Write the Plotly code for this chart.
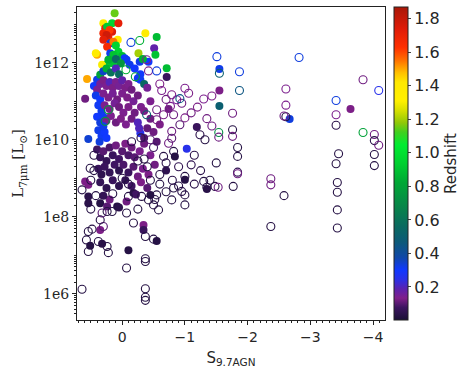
import plotly.graph_objects as go

# filled markers: S9.7AGN, log10 L7um, redshift
fill_s = [0.12, 0.30, 0.16, 0.06, 0.27, 0.24, 0.30, 0.16, 0.22, 0.20, 0.25, -0.37, -0.55, 0.30, 0.07,
          0.19, 0.24, 0.14, 0.10, -0.51, -0.53, 0.06, 0.40, 0.42, 0.19, 0.14, -0.26, 0.00, -0.04, -0.07,
          -0.28, -0.42, -0.33, 0.06, 0.16, 0.27, 0.32, 0.22, 0.10, 0.02, -0.71, -0.12, -0.20, -0.29, -0.25,
          0.56, 0.40, 0.35, 0.30, 0.25, 0.18, 0.10, 0.05, -0.29, -0.71, -0.35, -0.40, 0.59,
          0.45, 0.40, 0.35, 0.30, 0.25, 0.20, 0.15, 0.10, 0.05, 0.00, -0.05, -0.10, -0.15,
          0.42, 0.35, 0.30, 0.22, 0.15, 0.08, 0.00, -0.08, -0.18, -0.25,
          0.38, 0.33, 0.28, 0.20, 0.12, 0.05, -0.02, -0.10, -0.20, -0.30,
          0.40, 0.35, 0.30, 0.25, 0.18, 0.10, 0.02, -0.06, -0.15, -0.29, -0.27,
          0.38, 0.33, 0.28, 0.36, 0.30, 0.54, 0.25,
          0.40, 0.35, 0.30, 0.25, 0.20, 0.15, 0.10, 0.05, 0.00, -0.05, -0.10, -0.15, -0.20, -0.28, -0.35, -0.45,
          0.38, 0.33, 0.28, 0.20, 0.12, 0.05, -0.02, -0.10, -0.18, -0.25, -0.33, -0.42, -0.52,
          0.35, 0.25, 0.15, 0.05, -0.05, -0.15, -0.30, -0.40,
          0.54, 0.54, 0.54, 0.35, 0.24, 0.08, 0.05, -0.07, -0.18, -0.22, -0.45, -1.35, -0.34, -0.34, -0.55,
          -0.10, 0.51, 0.32, 0.35, 0.20, 0.30, 0.59,
          -0.74, -1.19, -1.03, -0.84, -1.00, -0.60, -0.50, -0.55, -0.70,
          -0.35, -0.45, -0.40, -0.35, -0.45, -0.25,
          -1.55, -1.55, -1.55, -2.67, -3.64]
fill_logL = [13.29, 13.03, 13.03, 13.03, 12.90, 12.94, 12.77, 12.81, 12.68, 12.85, 12.72, 12.77, 12.67, 12.60, 12.60,
             12.51, 12.42, 12.55, 12.45, 12.38, 12.21, 12.29, 12.21, 12.25, 12.25, 12.21, 12.25, 12.18, 12.12, 12.08,
             12.03, 12.03, 12.10, 12.03, 11.99, 11.95, 11.95, 12.08, 12.10, 11.98, 11.86, 11.95, 11.85, 11.70, 11.60,
             11.58, 11.56, 11.69, 11.78, 11.85, 11.75, 11.85, 11.70, 11.56, 11.63, 11.45, 11.35, 11.07,
             11.40, 11.30, 11.45, 11.55, 11.40, 11.50, 11.35, 11.50, 11.40, 11.55, 11.35, 11.45, 11.30,
             11.15, 11.05, 11.20, 11.10, 11.20, 11.05, 11.20, 11.10, 11.00, 11.15,
             10.90, 10.75, 10.90, 10.80, 10.95, 10.85, 10.70, 10.85, 10.70, 10.85,
             10.60, 10.45, 10.60, 10.50, 10.62, 10.45, 10.55, 10.40, 10.55, 10.17, 10.30,
             10.25, 10.10, 10.20, 9.95, 10.35, 10.02, 10.05,
             9.75, 9.55, 9.70, 9.45, 9.80, 9.60, 9.85, 9.50, 9.70, 9.90, 9.60, 9.80, 9.55, 9.70, 9.90, 9.60,
             9.25, 9.10, 9.30, 9.15, 9.35, 9.20, 9.35, 9.15, 9.30, 9.05, 9.25, 9.10, 9.35,
             8.90, 8.75, 8.95, 8.80, 8.95, 8.80, 8.90, 8.75,
             8.35, 8.53, 8.83, 8.35, 8.27, 8.27, 8.24, 8.40, 8.62, 8.58, 8.57, 8.72, 7.79, 7.66, 7.37,
             7.13, 7.25, 7.30, 7.66, 8.45, 8.55, 8.92,
             10.80, 10.33, 9.77, 9.57, 8.96, 10.40, 10.20, 9.95, 9.20,
             10.75, 10.55, 10.30, 10.05, 11.00, 10.45,
             11.84, 11.28, 10.88, 10.54, 10.80]
fill_z = [1.15, 1.35, 0.95, 1.72, 1.70, 0.92, 1.68, 1.75, 1.70, 1.62, 1.78, 1.36, 0.88, 1.72, 1.38,
          0.33, 1.66, 1.55, 0.95, 0.18, 0.90, 0.95, 1.50, 1.36, 0.32, 0.90, 1.20, 0.88, 0.30, 0.31,
          0.32, 0.30, 0.85, 0.92, 0.90, 0.92, 1.30, 0.85, 0.55, 0.75, 0.88, 0.32, 0.30, 0.30, 0.31,
          1.50, 0.32, 0.80, 0.35, 0.85, 0.60, 0.20, 0.55, 0.31, 0.07, 0.55, 0.15, 0.12,
          0.30, 0.14, 0.15, 0.13, 0.14, 0.20, 0.13, 0.14, 0.15, 0.18, 0.13, 0.14, 0.12,
          0.32, 0.30, 0.14, 0.13, 0.15, 0.12, 0.14, 0.13, 0.15, 0.12,
          0.31, 0.32, 0.14, 0.13, 0.15, 0.12, 0.14, 0.13, 0.12, 0.14,
          0.30, 0.33, 0.31, 0.13, 0.14, 0.12, 0.13, 0.14, 0.12, 0.25, 0.20,
          0.32, 0.31, 0.30, 0.33, 0.32, 0.34, 0.30,
          0.08, 0.07, 0.10, 0.06, 0.09, 0.07, 0.12, 0.08, 0.10, 0.13, 0.09, 0.12, 0.10, 0.14, 0.12, 0.14,
          0.07, 0.05, 0.07, 0.06, 0.08, 0.05, 0.09, 0.07, 0.10, 0.12, 0.14, 0.13, 0.12,
          0.06, 0.05, 0.07, 0.05, 0.06, 0.08, 0.13, 0.10,
          0.04, 0.04, 0.13, 0.03, 0.10, 0.03, 0.04, 0.12, 0.04, 0.08, 0.03, 0.04, 0.13, 0.07, 0.03,
          0.03, 0.03, 0.04, 0.13, 0.12, 0.06, 0.13,
          0.12, 0.07, 0.25, 0.03, 0.03, 0.13, 0.12, 0.10, 0.05,
          0.13, 0.12, 0.11, 0.09, 0.14, 0.20,
          0.32, 0.13, 0.50, 0.33, 0.13]

# open markers
open_s = [-0.14, -0.28, -0.42, -0.55, -0.06, 0.22, 0.27, -0.39, -0.21, -0.39,
          -0.63, -0.79, -0.87, -1.00, -1.06, -0.95, -0.92, -1.30, -1.43, -0.55, -0.66, -0.77, -0.82, -1.00,
          -0.55, -1.43, -0.92, -0.79, -1.24, -1.32, -0.79, -0.74, -0.82, -0.66, -1.00, -1.30, -1.48, -1.15,
          -1.10, -1.25, -0.90, -0.70, -0.60, -0.50, -0.45, -1.10, -1.20, -0.70, -0.60, -1.35,
          -0.79, -1.00, -1.00, -0.95, -0.82, -0.50, -0.55, -0.58, -1.35, -1.53, -1.77, -0.18, -0.37, -0.50,
          -0.37, -0.37, -0.37, -0.37, -0.37, -0.07, 0.64, 0.57, 0.54, 0.54, 0.48, 0.38, 0.24, 0.22, 0.30,
          0.35, 0.32, 0.24, 0.64, 0.16, -0.10, -0.07, -0.31, -0.42, -0.52,
          -0.60, -0.45, -0.80, -0.90, -0.70, -1.15, -1.40,
          0.00, -0.10, -0.25, -0.35, -0.40, -0.15, 0.45, 0.50, 0.45, 0.15, 0.42, 0.50, -0.25, -0.30, 0.51,
          -2.82, -1.87, -1.87, -2.61, -2.61, -2.61, -2.58, -3.41, -3.41, -3.41, -3.84, -4.09, -3.84, -4.02,
          -4.02, -4.09, -4.02, -4.02, -3.45, -3.41, -3.43, -3.43, -3.43, -3.43, -2.37, -2.37, -2.58, -2.37,
          -1.76, -1.76, -1.84, -1.84, -1.84, -1.84, -1.76, -1.51, -1.55, -1.54, -1.54, -1.50]
open_logL = [12.53, 12.58, 11.79, 11.79, 11.82, 10.78, 10.48, 10.65, 11.64, 12.08,
             11.28, 11.17, 11.04, 11.34, 11.21, 10.95, 11.07, 11.06, 11.14, 10.78, 10.65, 10.87, 10.65, 10.57,
             10.52, 10.36, 10.39, 10.22, 10.13, 10.00, 10.04, 9.91, 9.70, 9.57, 9.05, 8.92, 8.79, 9.60,
             9.35, 9.20, 9.30, 9.40, 9.10, 9.80, 10.00, 10.70, 10.85, 11.05, 11.45, 10.55,
             8.44, 8.31, 8.57, 8.66, 8.75, 8.31, 8.57, 8.18, 8.77, 8.77, 8.79, 7.84, 7.49, 7.42,
             6.91, 6.84, 6.13, 5.91, 5.83, 6.67, 6.12, 7.40, 7.10, 7.62, 7.68, 7.36, 7.23, 7.07, 7.75,
             7.92, 8.10, 8.14, 8.70, 8.14, 8.53, 8.10, 8.53, 8.44, 8.45,
             8.85, 8.95, 8.95, 8.80, 8.65, 8.85, 8.95,
             9.00, 8.85, 9.45, 9.50, 9.30, 9.95, 9.20, 8.95, 9.60, 8.60, 8.55, 8.20, 8.20, 10.05, 9.26,
             12.14, 11.77, 11.28, 11.32, 10.90, 10.60, 10.62, 11.02, 10.65, 10.38, 11.56, 11.28, 10.19, 10.14,
             9.98, 9.86, 9.62, 9.33, 9.64, 9.38, 8.89, 8.64, 8.18, 7.71, 8.99, 8.83, 8.55, 7.75,
             10.26, 10.09, 9.80, 9.57, 9.16, 9.12, 10.69, 12.16, 11.73, 10.19, 10.07, 9.40]
open_z = [0.33, 0.85, 0.14, 0.33, 0.85, 0.78, 0.75, 0.50, 0.80, 0.14,
          0.14, 0.13, 0.15, 0.14, 0.13, 0.12, 0.45, 0.14, 0.13, 0.12, 0.13, 0.14, 0.12, 0.13,
          0.12, 0.12, 0.10, 0.12, 0.04, 0.03, 0.10, 0.12, 0.03, 0.03, 0.03, 0.03, 0.04, 0.04,
          0.05, 0.04, 0.05, 0.04, 0.03, 0.08, 0.10, 0.12, 0.13, 0.12, 0.13, 0.12,
          0.03, 0.03, 0.03, 0.04, 0.03, 0.03, 0.03, 0.03, 0.03, 0.12, 0.03, 0.03, 0.03, 0.03,
          0.03, 0.03, 0.03, 0.03, 0.03, 0.03, 0.03, 0.03, 0.03, 0.03, 0.03, 0.03, 0.03, 0.03, 0.10,
          0.03, 0.10, 0.03, 0.03, 0.03, 0.03, 0.03, 0.03, 0.03, 0.03,
          0.03, 0.03, 0.04, 0.03, 0.03, 0.04, 0.03,
          0.03, 0.03, 0.04, 0.03, 0.03, 0.04, 0.03, 0.03, 0.03, 0.03, 0.03, 0.03, 0.03, 0.04, 0.03,
          0.33, 0.33, 0.45, 0.14, 0.14, 0.03, 0.12, 0.33, 0.14, 0.04, 0.12, 0.25, 0.80, 0.12,
          0.04, 0.12, 0.03, 0.03, 0.03, 0.03, 0.03, 0.03, 0.03, 0.03, 0.12, 0.12, 0.03, 0.03,
          0.03, 0.12, 0.03, 0.03, 0.05, 0.12, 0.12, 0.33, 0.50, 0.72, 0.12, 0.03]

z_tick_vals = [0.2, 0.4, 0.6, 0.8, 1.0, 1.2, 1.4, 1.6, 1.8]
s_tick_vals = [0, -1, -2, -3, -4]
s_tick_text = ['0', '\u22121', '\u22122', '\u22123', '\u22124']
L_tick_vals = [1e6, 1e8, 1e10, 1e12]
L_tick_text = ['1e6', '1e8', '1e10', '1e12']

cscale = [[0.0, '#1a1035'], [0.04, '#3c1560'], [0.07, '#80208a'], [0.10, '#5a22b0'],
          [0.13, '#2a30e8'], [0.16, '#1038ff'], [0.20, '#1048a8'], [0.25, '#0c5a78'],
          [0.30, '#0a6a60'], [0.36, '#08844a'], [0.44, '#00a835'], [0.50, '#00d030'],
          [0.56, '#00ec30'], [0.60, '#40d020'], [0.63, '#90c808'], [0.67, '#d8e000'],
          [0.70, '#fff000'], [0.76, '#ffe800'], [0.79, '#ffc000'], [0.83, '#ff7000'],
          [0.87, '#ff3000'], [0.93, '#e01c08'], [1.0, '#a81808']]
zmin, zmax = 0.003, 1.87

fig = go.Figure()
fig.add_trace(go.Scatter(
    x=fill_s, y=[10 ** v for v in fill_logL], mode='markers',
    marker=dict(symbol='circle', size=8, color=fill_z, colorscale=cscale, cmin=zmin, cmax=zmax,
                line=dict(width=0), showscale=True,
                colorbar=dict(thickness=14, len=1, y=0.5, x=1.029, xanchor='left', xpad=0, ypad=0,
                              outlinewidth=1, outlinecolor='#222', ticks='outside', ticklen=3,
                              tickvals=z_tick_vals, tickformat='.1f',
                              tickfont=dict(family='DejaVu Sans', size=16, color='#262626'),
                              title=dict(text='Redshift', side='right',
                                         font=dict(family='DejaVu Sans', size=15, color='#262626')))),
    showlegend=False))
fig.add_trace(go.Scatter(
    x=open_s, y=[10 ** v for v in open_logL], mode='markers',
    marker=dict(symbol='circle-open', size=8, color=open_z, colorscale=cscale, cmin=zmin, cmax=zmax,
                line=dict(width=1.1), showscale=False),
    showlegend=False))

minor_y = [m * 10 ** e for e in range(5, 14) for m in range(1, 10) if not (m == 1 and e % 2 == 0)]

fig.update_layout(
    width=463, height=371, template='plotly_white',
    plot_bgcolor='white', paper_bgcolor='white',
    margin=dict(l=77, r=78, t=7, b=51, autoexpand=False),
)
fig.update_xaxes(range=[0.72, -4.19], showgrid=False, zeroline=False, showline=True, mirror=True,
                 automargin=False,
                 linecolor='#222', linewidth=1, ticks='outside', ticklen=4, tickcolor='#222',
                 tickmode='array', tickvals=s_tick_vals, ticktext=s_tick_text,
                 tickfont=dict(family='DejaVu Sans', size=14, color='#262626'),
                 minor=dict(ticks='outside', ticklen=2, tickcolor='#222', dtick=0.1, tick0=0, showgrid=False),
                 title=dict(text='S<sub>9.7AGN</sub>', font=dict(family='DejaVu Sans', size=15, color='#262626'),
                            standoff=8))
fig.update_yaxes(type='log', range=[5.32, 13.45], showgrid=False, zeroline=False, showline=True, mirror=True,
                 automargin=False,
                 linecolor='#222', linewidth=1, ticks='outside', ticklen=4, tickcolor='#222',
                 tickmode='array', tickvals=L_tick_vals, ticktext=L_tick_text,
                 tickfont=dict(family='DejaVu Serif', size=14, color='#262626'),
                 minor=dict(ticks='outside', ticklen=2, tickcolor='#222', tickmode='array', tickvals=minor_y,
                            showgrid=False),
                 title=dict(text='L<sub>7μm</sub> [L<sub>⊙</sub>]',
                            font=dict(family='DejaVu Serif', size=15, color='#262626'), standoff=6))

# the page body has a default 8px margin; drop it so the figure sits at the window's corner
fig.write_html("out.html", config={'displayModeBar': False},
               post_script="document.body.style.margin='0';")
